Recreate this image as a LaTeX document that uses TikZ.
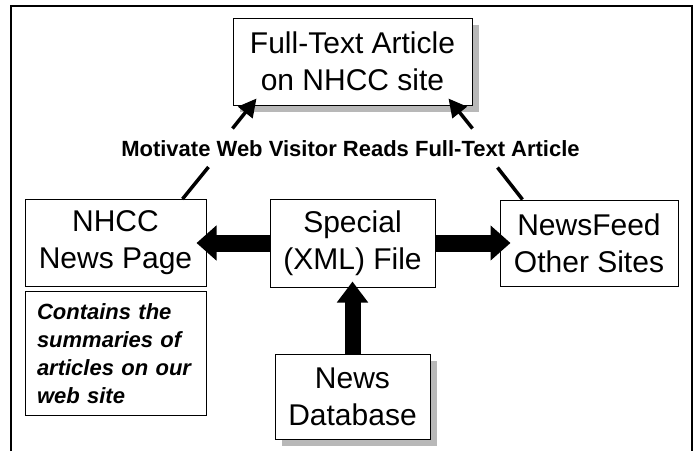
\documentclass[tikz,border=0pt]{standalone}
\usepackage{fontspec}
\setmainfont{Liberation Sans}
\usetikzlibrary{positioning,arrows.meta,shadows}
\tikzstyle{sheet} = [x = 1pt, y = -1pt]
\tikzstyle{boxStyle} = [draw, line width = 1pt, fill=white, inner sep = 0, align = center, font = \fontsize{30}{37}\selectfont]
\tikzstyle{shadowBox} = [boxStyle, drop shadow = {shadow xshift = 7pt, shadow yshift = -7pt, fill = black!28, opacity = 1}]
\tikzstyle{noteStyle} = [draw, line width = 1pt, inner xsep = 12pt, inner ysep = 0, text width = 157pt, align = left, minimum height = 124pt, font = \fontsize{22}{28}\selectfont\bfseries\itshape]
\tikzstyle{labelStyle} = [inner sep = 0, font = \fontsize{22}{26}\selectfont\bfseries]
\tikzstyle{fatArrow} = [line width = 17pt, -{Triangle[length = 20pt, width = 34pt]}]
\tikzstyle{thinArrow} = [line width = 3.5pt, -{Triangle[length = 18pt, width = 18pt]}]
\tikzstyle{thinLine} = [line width = 3.5pt]
\tikzstyle{frameLine} = [line width = 2.5pt]

\begin{document}
\begin{tikzpicture}[sheet]
  \useasboundingbox (0,0) rectangle (697,451);
  \draw [frameLine] (11,451) -- (11,6) -- (692,6) -- (692,451);

  \node [boxStyle, minimum width = 165pt, minimum height = 88pt] (special) at (352.5,243) {Special\\(XML) File};
  \node [boxStyle, minimum width = 181pt, minimum height = 87pt, left = 63pt of special] (nhcc) {NHCC\\News Page};
  \node [boxStyle, minimum width = 178pt, minimum height = 86pt, right = 64pt of special] (feed) {NewsFeed\\Other Sites};
  \node [noteStyle, below = 4pt of nhcc] (note) {Contains the summaries of articles on our web site};
  \node [shadowBox, minimum width = 155pt, minimum height = 85pt, below = 66pt of special] (database) {News\\Database};
  \node [shadowBox, minimum width = 239pt, minimum height = 87pt] (article) at (352.5,61.5) {Full-Text Article\\on NHCC site};
  \node [labelStyle] (motive) at (350.5,149) {Motivate Web Visitor Reads Full-Text Article};

  \draw [fatArrow] (special.west) -- ([xshift = -10pt]nhcc.east);
  \draw [fatArrow] (special.east) -- ([xshift = 11pt]feed.west);
  \draw [fatArrow, line width = 16pt, -{Triangle[length = 21pt, width = 30pt]}] (database.north) -- ([yshift = 6pt]special.south);

  \draw [thinLine] ([xshift = -24pt]nhcc.north east) -- ++(26,-32);
  \draw [thinLine] ([xshift = 23pt]feed.north west) -- ++(-25,-32);
  \draw [thinArrow] ([yshift = -23pt]article.south west) -- ++(24,-30);
  \draw [thinArrow] ([yshift = -23pt]article.south east) -- ++(-24,-30);
\end{tikzpicture}
\end{document}
